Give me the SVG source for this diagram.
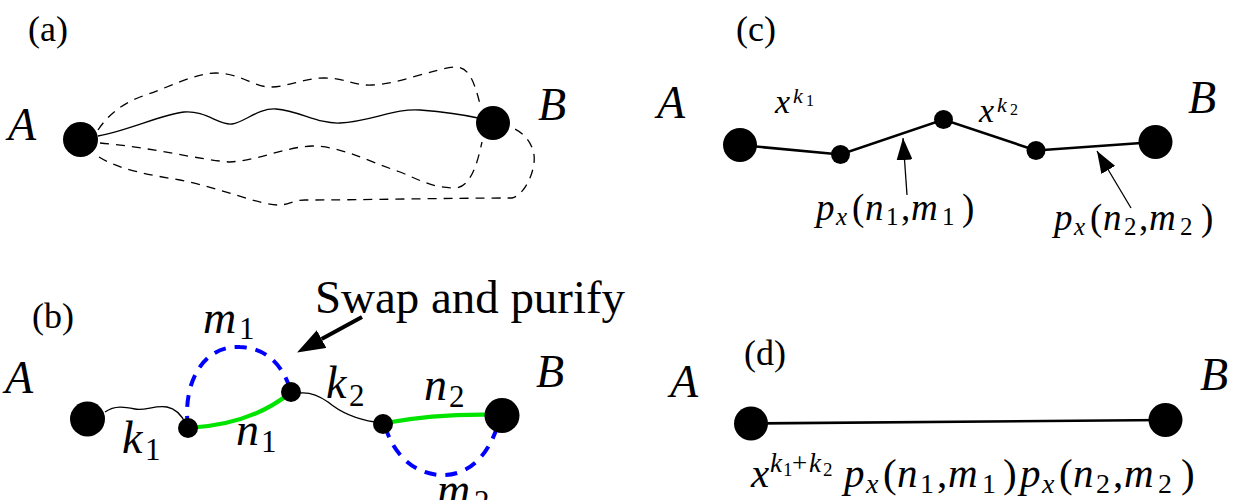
<svg xmlns="http://www.w3.org/2000/svg" width="1235" height="500" viewBox="0 0 1235 500">
<defs>
<marker id="ah" markerUnits="userSpaceOnUse" viewBox="0 0 22 16" refX="22" refY="8" markerWidth="22" markerHeight="16" orient="auto"><path d="M0,0 L22,8 L0,16 z" fill="#000"/></marker>
<marker id="ah2" markerUnits="userSpaceOnUse" viewBox="0 0 28 20" refX="0" refY="10" markerWidth="28" markerHeight="20" orient="auto"><path d="M0,0 L28,10 L0,20 z" fill="#000"/></marker>
</defs>

<g id="panel-labels" font-family="Liberation Serif, serif" font-size="36" fill="#000">
<text x="28" y="41">(a)</text>
<text x="32" y="328">(b)</text>
<text x="736" y="41">(c)</text>
<text x="744" y="365">(d)</text>
</g>

<g id="connectors" fill="none" stroke="#000">
  <g stroke-width="1.3">
    <path d="M98,136 C130,130 160,115 184,112 C205,110 220,126 232,124 C245,122 258,108 276,109 C300,111 318,124 340,123 C370,122 395,108 420,110 C445,112 465,115 478,118"/>
    <path d="M105,412 C115,405 125,407 135,409 C145,411 155,405 167,407 C178,409 183,418 186,424"/>
    <path d="M300,393 C310,392 318,395 328,402 C340,412 355,419 375,422"/>
  </g>
  <g stroke-width="1.3" stroke-dasharray="9 7">
    <path d="M98,130 C110,112 125,103 140,97 C170,87 195,73 216,73 C240,73 255,88 272,87 C290,86 305,78 324,78 C345,78 355,86 372,85 C400,84 435,68 456,67 C470,67 475,85 480,104"/>
    <path d="M100,143 C150,147 200,160 230,162 C260,160 285,147 312,146 C340,146 365,160 400,172 C420,180 432,188 456,188 C472,186 478,160 482,142"/>
    <path d="M99,157 C120,170 150,175 180,180 C220,188 260,205 278,205 C290,205 292,200 305,200 C360,200 450,198 512,198 C525,195 536,170 534,155 C532,140 520,130 510,127"/>
  </g>
  <g stroke="#0000ff" stroke-width="4" stroke-dasharray="12 9">
    <path d="M188,428 C182,380 205,345 240,347 C270,348 285,370 291,392"/>
    <path d="M385,426 C395,460 420,476 445,475 C470,474 490,455 500,418"/>
  </g>
  <g stroke="#00e400" stroke-width="4.2">
    <path d="M188,428 Q250,425 290,393"/>
    <path d="M385,423 Q440,413 502,415"/>
  </g>
  <line x1="362" y1="317" x2="321.6" y2="339.1" stroke-width="4" marker-end="url(#ah2)"/>
  <g stroke-width="2.6">
    <polyline points="740,145 840.5,154.5 943.5,119.5 1036,150.5 1155.5,142"/>
    <line x1="751" y1="423.5" x2="1165.5" y2="420"/>
  </g>
  <g stroke-width="1.3">
    <line x1="907" y1="195" x2="903" y2="138" marker-end="url(#ah)"/>
    <line x1="1131" y1="208" x2="1097" y2="151" marker-end="url(#ah)"/>
  </g>
</g>

<g id="nodes" fill="#000" font-family="Liberation Serif, serif" font-size="46" font-style="italic">
  <g id="a-A"><circle cx="80.5" cy="139.5" r="17.5"/><text x="8" y="140">A</text></g>
  <g id="a-B"><circle cx="493" cy="123" r="17"/><text x="538" y="120">B</text></g>
  <g id="b-A"><circle cx="87.5" cy="419" r="17.5"/><text x="5" y="393">A</text></g>
  <g id="b-1"><circle cx="188" cy="428" r="10"/></g>
  <g id="b-2"><circle cx="291" cy="392" r="10"/></g>
  <g id="b-3"><circle cx="383" cy="424" r="10"/></g>
  <g id="b-B"><circle cx="502" cy="415.5" r="17.5"/><text x="536" y="387">B</text></g>
  <g id="c-A"><circle cx="740" cy="145" r="17"/><text x="657" y="118">A</text></g>
  <g id="c-1"><circle cx="840.5" cy="154.5" r="9.5"/></g>
  <g id="c-2"><circle cx="943.5" cy="119.5" r="9.5"/></g>
  <g id="c-3"><circle cx="1036" cy="150.5" r="9.5"/></g>
  <g id="c-B"><circle cx="1155.5" cy="142" r="17"/><text x="1188" y="113">B</text></g>
  <g id="d-A"><circle cx="751" cy="423.5" r="17"/><text x="670" y="397">A</text></g>
  <g id="d-B"><circle cx="1165.5" cy="420" r="17"/><text x="1200" y="390">B</text></g>
</g>

<g id="swap" font-family="Liberation Serif, serif" fill="#000"><text x="315" y="313" font-size="46" textLength="310" lengthAdjust="spacingAndGlyphs">Swap and purify</text></g>

<g id="b-labels" font-family="Liberation Serif, serif" font-size="46" font-style="italic" fill="#000">
  <text><tspan x="122" y="453">k</tspan><tspan font-style="normal" x="145" y="460" font-size="31">1</tspan></text>
  <text><tspan x="203" y="333">m</tspan><tspan font-style="normal" x="239" y="339" font-size="31">1</tspan></text>
  <text><tspan x="236" y="445">n</tspan><tspan font-style="normal" x="261" y="452" font-size="31">1</tspan></text>
  <text><tspan x="326" y="398">k</tspan><tspan font-style="normal" x="349" y="406" font-size="31">2</tspan></text>
  <text><tspan x="424" y="400">n</tspan><tspan font-style="normal" x="449" y="407" font-size="31">2</tspan></text>
  <text><tspan x="437" y="505">m</tspan><tspan font-style="normal" x="474" y="512" font-size="31">2</tspan></text>
</g>

<g id="c-labels" font-family="Liberation Serif, serif" font-style="italic" fill="#000">
  <text font-size="34"><tspan x="775" y="113">x</tspan><tspan x="793" y="103" font-size="22">k</tspan><tspan font-style="normal" x="806" y="106" font-size="16">1</tspan></text>
  <text font-size="34"><tspan x="979" y="122">x</tspan><tspan x="997" y="112" font-size="22">k</tspan><tspan font-style="normal" x="1010" y="115" font-size="16">2</tspan></text>
  <text font-size="37"><tspan x="816" y="220">p</tspan><tspan x="836" y="225" font-size="25">x</tspan><tspan font-style="normal" x="852" y="220">(</tspan><tspan x="865" y="220">n</tspan><tspan font-style="normal" x="886" y="225" font-size="25">1</tspan><tspan font-style="normal" x="901" y="220">,</tspan><tspan x="911" y="220">m</tspan><tspan font-style="normal" x="942" y="225" font-size="25">1</tspan><tspan font-style="normal" x="962" y="220">)</tspan></text>
  <text font-size="37"><tspan x="1054" y="230">p</tspan><tspan x="1074" y="235" font-size="25">x</tspan><tspan font-style="normal" x="1090" y="230">(</tspan><tspan x="1103" y="230">n</tspan><tspan font-style="normal" x="1124" y="235" font-size="25">2</tspan><tspan font-style="normal" x="1139" y="230">,</tspan><tspan x="1149" y="230">m</tspan><tspan font-style="normal" x="1180" y="235" font-size="25">2</tspan><tspan font-style="normal" x="1201" y="230">)</tspan></text>
</g>

<g id="d-label" font-family="Liberation Serif, serif" font-style="italic" fill="#000">
  <text font-size="41"><tspan x="751" y="487">x</tspan><tspan x="770" y="472" font-size="27">k</tspan><tspan font-style="normal" x="783" y="476" font-size="19">1</tspan><tspan font-style="normal" x="792" y="472" font-size="27">+</tspan><tspan x="809" y="472" font-size="27">k</tspan><tspan font-style="normal" x="823" y="476" font-size="19">2</tspan><tspan x="844" y="487">p</tspan><tspan x="866" y="493" font-size="28">x</tspan><tspan font-style="normal" x="883" y="487">(</tspan><tspan x="897" y="487">n</tspan><tspan font-style="normal" x="920" y="493" font-size="28">1</tspan><tspan font-style="normal" x="937" y="487">,</tspan><tspan x="948" y="487">m</tspan><tspan font-style="normal" x="982" y="493" font-size="28">1</tspan><tspan font-style="normal" x="1003" y="487">)</tspan><tspan x="1020" y="487">p</tspan><tspan x="1042" y="493" font-size="28">x</tspan><tspan font-style="normal" x="1059" y="487">(</tspan><tspan x="1073" y="487">n</tspan><tspan font-style="normal" x="1096" y="493" font-size="28">2</tspan><tspan font-style="normal" x="1113" y="487">,</tspan><tspan x="1124" y="487">m</tspan><tspan font-style="normal" x="1158" y="493" font-size="28">2</tspan><tspan font-style="normal" x="1181" y="487">)</tspan></text>
</g>
</svg>
